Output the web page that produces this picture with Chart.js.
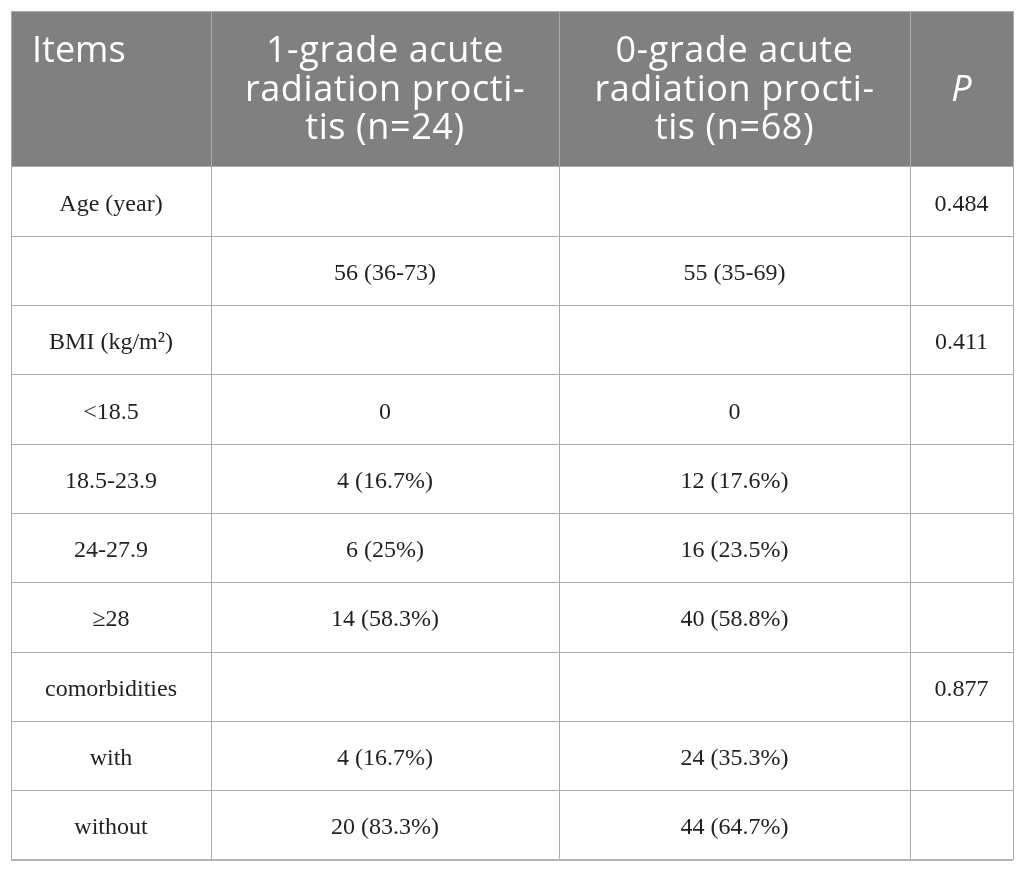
<!DOCTYPE html>
<html>
<head>
<meta charset="utf-8">
<title>Acute radiation proctitis – baseline table</title>
<script src="https://cdn.jsdelivr.net/npm/chart.js@4.4.1/dist/chart.umd.min.js"></script>
<style>
  html, body { margin: 0; padding: 0; background: #ffffff; }
  #wrap { position: relative; width: 1025px; height: 871px; }
</style>
</head>
<body>
<div id="wrap"><canvas id="table-chart"></canvas></div>
<script>
/* ------------------------------------------------------------
   Table values, one array per column
   ------------------------------------------------------------ */
const COLUMN_HEADERS = [
  ['Items'],
  ['1-grade acute', 'radiation procti-', 'tis (n=24)'],
  ['0-grade acute', 'radiation procti-', 'tis (n=68)'],
  ['P'],
];

const ROW_LABELS = [
  'Age (year)', '', 'BMI (kg/m²)', '<18.5', '18.5-23.9', '24-27.9', '≥28',
  'comorbidities', 'with', 'without',
];

const GRADE1_VALUES = [
  '', '56 (36-73)', '', '0', '4 (16.7%)', '6 (25%)', '14 (58.3%)',
  '', '4 (16.7%)', '20 (83.3%)',
];

const GRADE0_VALUES = [
  '', '55 (35-69)', '', '0', '12 (17.6%)', '16 (23.5%)', '40 (58.8%)',
  '', '24 (35.3%)', '44 (64.7%)',
];

const P_VALUES = ['0.484', '', '0.411', '', '', '', '', '0.877', '', ''];

/* ------------------------------------------------------------
   Layout (scale units) and styles
   ------------------------------------------------------------ */
const COL_EDGES   = [0, 200, 548, 899, 1002];   // x-scale units
const HEADER_SPAN = 2.25;                        // header height in body rows

const STYLE = {
  headerBg:   '#7f807f',
  headerText: '#ffffff',
  rule:       '#ababab',
  ruleBottom: '#b4b4b4',
  bodyText:   '#231f20',
  headerFont: '"Open Sans", "Noto Sans", sans-serif',
  bodyFont:   '"Liberation Serif", "Times New Roman", serif',
};

const ROW_EDGES = [0].concat(ROW_LABELS.map((_, i) => HEADER_SPAN + i), HEADER_SPAN + ROW_LABELS.length);
const colCenter = c => (COL_EDGES[c] + COL_EDGES[c + 1]) / 2;
const rowCenter = r => HEADER_SPAN + r + 0.5;

function columnDataset(values, col) {
  return {
    label: COLUMN_HEADERS[col].join(' '),
    data: values.map((text, r) => ({ x: colCenter(col), y: rowCenter(r), text })),
    pointRadius: 0,
    pointHoverRadius: 0,
  };
}

// gray header band, painted before the grid so the rules show through
const headerBand = {
  id: 'headerBand',
  beforeDraw(chart) {
    const { ctx, scales: { x, y } } = chart;
    const top = y.getPixelForValue(0);
    const bottom = y.getPixelForValue(HEADER_SPAN);
    ctx.save();
    ctx.fillStyle = STYLE.headerBg;
    ctx.fillRect(x.left, top, x.right - x.left, bottom - top);
    ctx.restore();
  },
  afterDraw(chart) {
    const { ctx, scales: { x, y } } = chart;
    const mid = (y.getPixelForValue(0) + y.getPixelForValue(HEADER_SPAN)) / 2;
    const lineGap = 38.5;
    ctx.save();
    ctx.fillStyle = STYLE.headerText;
    ctx.textBaseline = 'alphabetic';
    COLUMN_HEADERS.forEach((lines, c) => {
      const italic = lines.length === 1 && lines[0] === 'P';
      ctx.font = (italic ? 'italic ' : '') + '36px ' + STYLE.headerFont;
      ctx.letterSpacing = c === 0 || italic ? '0px' : '0.6px';
      let xPos, firstBase;
      if (c === 0) {
        // "Items" sits on the first header line, left aligned
        ctx.textAlign = 'left';
        xPos = x.getPixelForValue(COL_EDGES[0]) + 21;
        firstBase = mid + 12 - lineGap;
      } else {
        ctx.textAlign = 'center';
        xPos = x.getPixelForValue(colCenter(c));
        firstBase = mid + 12 - (lines.length - 1) * lineGap / 2;
      }
      lines.forEach((line, i) => ctx.fillText(line, xPos, firstBase + i * lineGap));
    });
    ctx.restore();
  },
};

// cell text drawn at each point the scatter datasets place
const cellText = {
  id: 'cellText',
  afterDatasetsDraw(chart) {
    const { ctx } = chart;
    ctx.save();
    ctx.fillStyle = STYLE.bodyText;
    ctx.font = '24px ' + STYLE.bodyFont;
    ctx.textAlign = 'center';
    ctx.textBaseline = 'alphabetic';
    chart.data.datasets.forEach((ds, di) => {
      chart.getDatasetMeta(di).data.forEach((pt, i) => {
        const text = ds.data[i].text;
        if (text) ctx.fillText(text, pt.x, pt.y + 9);
      });
    });
    ctx.restore();
  },
};

new Chart(document.getElementById('table-chart'), {
  type: 'scatter',
  data: {
    datasets: [
      columnDataset(ROW_LABELS, 0),
      columnDataset(GRADE1_VALUES, 1),
      columnDataset(GRADE0_VALUES, 2),
      columnDataset(P_VALUES, 3),
    ],
  },
  options: {
    responsive: true,
    maintainAspectRatio: false,
    animation: false,
    events: [],
    layout: { padding: { left: 11, right: 12, top: 11, bottom: 11 } },
    plugins: {
      legend: { display: false },
      tooltip: { enabled: false },
    },
    scales: {
      x: {
        type: 'linear',
        min: COL_EDGES[0],
        max: COL_EDGES[COL_EDGES.length - 1],
        afterBuildTicks: s => { s.ticks = COL_EDGES.map(v => ({ value: v })); },
        ticks: { display: false },
        border: { display: false },
        grid: { color: STYLE.rule, lineWidth: 1, drawTicks: false },
      },
      y: {
        type: 'linear',
        reverse: true,
        min: ROW_EDGES[0],
        max: ROW_EDGES[ROW_EDGES.length - 1],
        afterBuildTicks: s => { s.ticks = ROW_EDGES.map(v => ({ value: v })); },
        ticks: { display: false },
        border: { display: false },
        grid: {
          color: c => (c.index === ROW_EDGES.length - 1 ? STYLE.ruleBottom : STYLE.rule),
          lineWidth: c => (c.index === ROW_EDGES.length - 1 ? 2 : 1),
          drawTicks: false,
        },
      },
    },
  },
  plugins: [headerBand, cellText],
});
</script>
</body>
</html>
